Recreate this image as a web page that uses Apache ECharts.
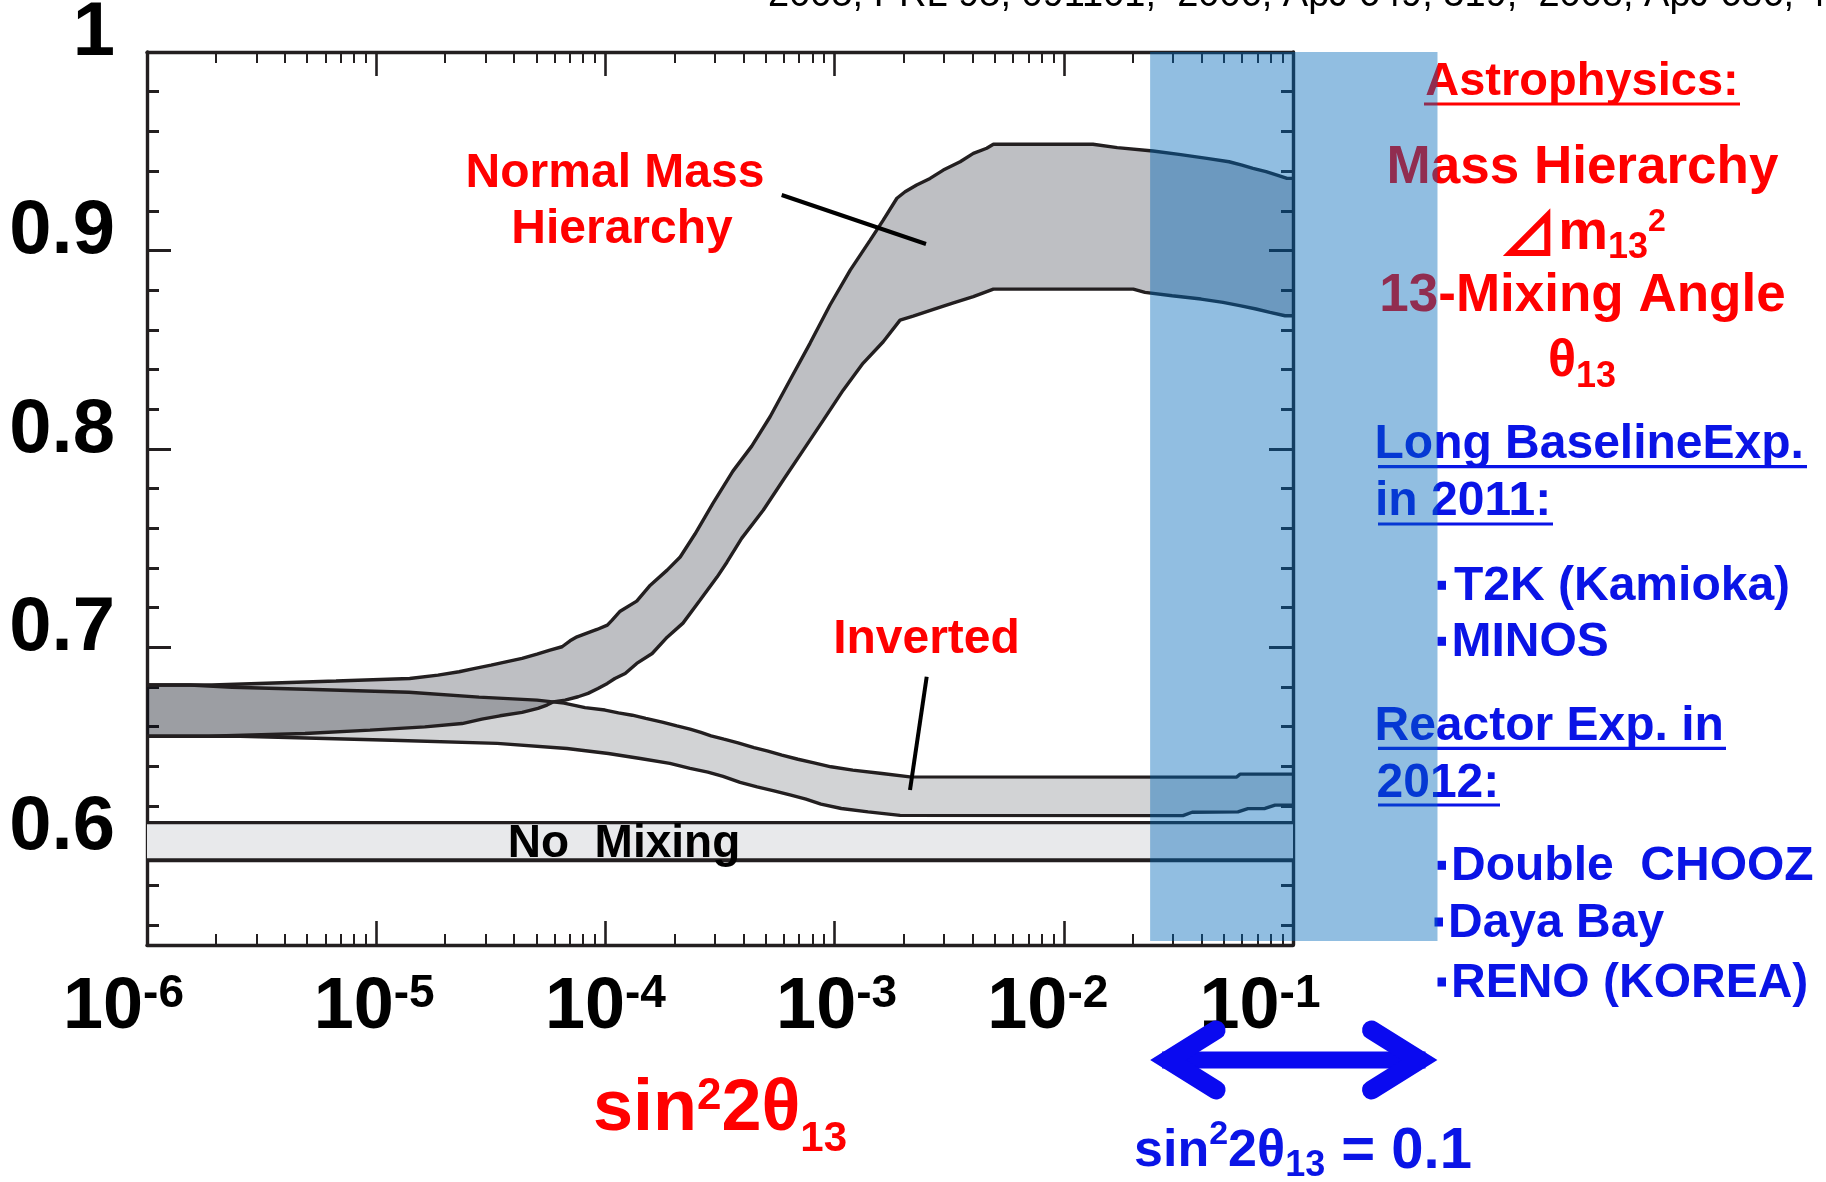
<!DOCTYPE html>
<html><head><meta charset="utf-8">
<script src="https://cdn.jsdelivr.net/npm/echarts@6/dist/echarts.min.js"></script>
<style>html,body{margin:0;padding:0;background:#fff}#c{width:1826px;height:1182px}</style>
</head><body><div id="c"></div>
<script>
// ---------------- data ----------------
const xMin = 1e-6, xMax = 1e-1;
const yMin = 0.55, yMax = 1.0;
const xMajorExp = [-6, -5, -4, -3, -2, -1];
const xMinorMultipliers = [2, 3, 4, 5, 6, 7, 8, 9];
const yMajorTicks = [0.6, 0.7, 0.8, 0.9, 1.0];
const yMinorTicks = [0.56, 0.58, 0.62, 0.64, 0.66, 0.68, 0.72, 0.74, 0.76, 0.78,
                     0.82, 0.84, 0.86, 0.88, 0.92, 0.94, 0.96, 0.98];

const normalUpper = [[1e-6,0.6810],[1.92e-6,0.6810],[6.68e-6,0.6830],[1.40e-5,0.6843],[1.86e-5,0.6860],
  [2.30e-5,0.6877],[2.70e-5,0.6894],[3.17e-5,0.6910],[3.68e-5,0.6927],[4.33e-5,0.6944],[5.03e-5,0.6966],
  [5.73e-5,0.6986],[6.47e-5,0.7003],[7.01e-5,0.7033],[7.52e-5,0.7053],[8.31e-5,0.7072],[9.19e-5,0.7090],
  [1.02e-4,0.7112],[1.07e-4,0.7137],[1.16e-4,0.7182],[1.37e-4,0.7233],[1.57e-4,0.7313],[1.86e-4,0.7389],
  [2.12e-4,0.7455],[2.46e-4,0.7571],[2.95e-4,0.7727],[3.60e-4,0.7888],[4.35e-4,0.8014],[5.23e-4,0.8162],
  [6.39e-4,0.8347],[7.81e-4,0.8532],[9.55e-4,0.8725],[1.17e-3,0.8901],[1.43e-3,0.9052],[1.63e-3,0.9153],
  [1.87e-3,0.9263],[2.03e-3,0.9296],[2.28e-3,0.9330],[2.61e-3,0.9363],[2.98e-3,0.9405],[3.53e-3,0.9447],
  [4.03e-3,0.9489],[4.61e-3,0.9515],[4.93e-3,0.9535],[1.34e-2,0.9535],[1.71e-2,0.9518],[2.45e-2,0.9501],
  [3.18e-2,0.9484],[4.21e-2,0.9464],[5.26e-2,0.9447],[5.99e-2,0.9430],[6.69e-2,0.9414],[7.63e-2,0.9397],
  [8.52e-2,0.9380],[9.42e-2,0.9363],[1e-1,0.9363]];

const normalLower = [[1e-6,0.6552],[1.86e-6,0.6552],[4.89e-6,0.6566],[9.40e-6,0.6583],[1.63e-5,0.6599],
  [2.37e-5,0.6616],[2.89e-5,0.6638],[3.47e-5,0.6655],[4.33e-5,0.6672],[5.08e-5,0.6692],[5.56e-5,0.6709],
  [5.91e-5,0.6725],[6.67e-5,0.6734],[7.60e-5,0.6751],[8.40e-5,0.6768],[9.28e-5,0.6793],[1.02e-4,0.6818],
  [1.10e-4,0.6843],[1.22e-4,0.6868],[1.37e-4,0.6919],[1.60e-4,0.6969],[1.86e-4,0.7051],[2.18e-4,0.7122],
  [2.59e-4,0.7238],[3.07e-4,0.7354],[3.39e-4,0.7429],[3.93e-4,0.7549],[4.89e-4,0.7692],[5.97e-4,0.7843],
  [7.30e-4,0.7994],[8.93e-4,0.8145],[1.09e-3,0.8296],[1.33e-3,0.8431],[1.63e-3,0.8540],[1.93e-3,0.8649],
  [2.20e-3,0.8669],[2.70e-3,0.8703],[3.30e-3,0.8736],[4.03e-3,0.8767],[4.93e-3,0.8805],[2.01e-2,0.8805],
  [2.26e-2,0.8789],[2.97e-2,0.8772],[3.97e-2,0.8755],[4.95e-2,0.8738],[5.93e-2,0.8721],[6.90e-2,0.8705],
  [7.94e-2,0.8688],[9.23e-2,0.8671],[1e-1,0.8671]];

const invertedUpper = [[1e-6,0.6810],[1.54e-6,0.6810],[2.35e-6,0.6799],[4.94e-6,0.6789],[1.39e-5,0.6774],
  [2.81e-5,0.6749],[5.03e-5,0.6734],[6.60e-5,0.6719],[8.15e-5,0.6696],[9.96e-5,0.6684],[1.14e-4,0.6670],
  [1.31e-4,0.6658],[1.50e-4,0.6642],[1.77e-4,0.6623],[2.05e-4,0.6604],[2.34e-4,0.6588],[2.61e-4,0.6571],
  [2.89e-4,0.6554],[3.29e-4,0.6537],[3.79e-4,0.6519],[4.45e-4,0.6495],[5.12e-4,0.6477],[5.89e-4,0.6457],
  [6.92e-4,0.6436],[8.13e-4,0.6418],[9.64e-4,0.6398],[1.20e-3,0.6381],[1.61e-3,0.6364],[2.13e-3,0.6347],
  [5.68e-2,0.6346],[5.87e-2,0.6361],[1e-1,0.6361]];

const invertedLower = [[1e-6,0.6552],[2.55e-6,0.6552],[1.17e-5,0.6532],[3.37e-5,0.6516],[6.80e-5,0.6490],
  [1.03e-4,0.6465],[1.42e-4,0.6440],[1.91e-4,0.6415],[2.34e-4,0.6390],[2.80e-4,0.6371],[3.26e-4,0.6350],
  [3.87e-4,0.6319],[4.59e-4,0.6297],[5.44e-4,0.6277],[6.45e-4,0.6255],[7.50e-4,0.6235],[8.72e-4,0.6210],
  [1.07e-3,0.6188],[1.40e-3,0.6171],[1.93e-3,0.6153],[3.31e-2,0.6152],[3.63e-2,0.6169],[5.75e-2,0.6171],
  [6.36e-2,0.6187],[7.55e-2,0.6188],[8.35e-2,0.6205],[1e-1,0.6205]];

const noMixingUpper = [[1e-6,0.6117],[1e-1,0.6117]];
const noMixingLower = [[1e-6,0.5927],[1e-1,0.5927]];

const expBandX = [0.0238, 0.427];
const expBandY = [0.552, 1.0];

// ---------------- styling ----------------
const FF = 'Liberation Sans, Arial, Helvetica, sans-serif';
const AX = '#231f20';
const RED = '#ff0000';
const BLUE = '#0a14e6';
const ARROW = '#0a0af0';
const xLabelShift = [-23.5, -2, 0, 2, -16, -33];

const xMinorExp = [];
xMajorExp.slice(0, -1).forEach(e => xMinorMultipliers.forEach(k => xMinorExp.push(e + Math.log10(k))));

const xRich = {
  b: {fontSize: 72, fontWeight: 'bold', fontFamily: FF, color: '#000', lineHeight: 72},
  s: {fontSize: 46, fontWeight: 'bold', fontFamily: FF, color: '#000', height: 44, lineHeight: 44, verticalAlign: 'top'}
};
xLabelShift.forEach((sh, i) => { xRich['g' + i] = {width: Math.abs(2 * sh), fontSize: 10, lineHeight: 10}; });

function xLabelFormatter(v) {
  const i = xMajorExp.findIndex(e => Math.abs(e - v) < 1e-9);
  const sh = xLabelShift[i] || 0;
  const pad = sh !== 0 ? '{g' + i + '| }' : '';
  return (sh > 0 ? pad : '') + '{b|10}{s|' + Math.round(v) + '}' + (sh < 0 ? pad : '');
}

function valueXAxis(pos, major, withLabels, extra) {
  return Object.assign({
    type: 'value', min: -6, max: -1, position: pos, gridIndex: 0,
    axisLine: {show: major, onZero: false, lineStyle: {color: AX, width: 3.4}},
    axisTick: {show: true, inside: true, length: major ? 24 : 11,
      customValues: major ? xMajorExp : xMinorExp,
      lineStyle: {color: AX, width: major ? 2.6 : 2}},
    axisLabel: withLabels ? {show: true, customValues: xMajorExp, formatter: xLabelFormatter, rich: xRich, margin: 27} : {show: false},
    splitLine: {show: false}, minorTick: {show: false}
  }, extra || {});
}

function valueYAxis(pos, major, withLabels) {
  return {
    type: 'value', min: yMin, max: yMax, position: pos, gridIndex: 0,
    axisLine: {show: major, onZero: false, lineStyle: {color: AX, width: 3.4}},
    axisTick: {show: true, inside: true, length: major ? 24 : 12,
      customValues: major ? yMajorTicks : yMinorTicks,
      lineStyle: {color: AX, width: 3}},
    axisLabel: withLabels ? {
      show: true, customValues: yMajorTicks,
      formatter: v => (Math.abs(v - 1) < 1e-9 ? '1' : v.toFixed(1)),
      fontSize: 76, fontWeight: 'bold', fontFamily: FF, color: '#000',
      margin: 32, verticalAlign: 'bottom', lineHeight: 36
    } : {show: false},
    splitLine: {show: false}
  };
}

function bandFill(upper, lower, color) {
  return {
    type: 'custom', coordinateSystem: 'cartesian2d', xAxisIndex: 0, yAxisIndex: 0,
    silent: true, z: 1, data: [upper[0]],
    renderItem: (params, api) => {
      const pts = upper.map(p => api.coord(p)).concat(lower.slice().reverse().map(p => api.coord(p)));
      return {type: 'polygon', shape: {points: pts}, style: {fill: color}};
    }
  };
}

function boundary(data, w) {
  return {type: 'line', data: data, xAxisIndex: 0, yAxisIndex: 0, symbol: 'none', silent: true, z: 3,
    lineStyle: {color: AX, width: w}, emphasis: {disabled: true}};
}

function txt(x, base, text, size, color, align, weight) {
  return {type: 'text', z: 5, silent: true, style: {
    text: text, x: x, y: base - 0.3465 * size, fill: color,
    fontSize: size, fontWeight: weight || 'bold', fontFamily: FF,
    align: align || 'center', verticalAlign: 'middle'}};
}
function uline(x1, x2, y, color) {
  return {type: 'rect', z: 5, silent: true, shape: {x: x1, y: y - 1.6, width: x2 - x1, height: 3.2}, style: {fill: color}};
}
function bullet(x, base) {
  return {type: 'rect', z: 5, silent: true, shape: {x: x, y: base - 22.5, width: 8.5, height: 9}, style: {fill: BLUE}};
}

const option = {
  animation: false,
  backgroundColor: '#ffffff',
  textStyle: {fontFamily: FF},
  grid: {left: 147, top: 52, width: 1146, height: 893, containLabel: false, outerBoundsMode: 'none'},
  xAxis: [
    {type: 'log', logBase: 10, min: xMin, max: xMax, show: false, gridIndex: 0, position: 'bottom'},
    valueXAxis('bottom', true, true, {
      name: '{a|sin}{p|2}{a|2θ}{b|13}', nameLocation: 'middle', nameGap: 129,
      nameTextStyle: {rich: {
        a: {fontSize: 72, fontWeight: 'bold', fontFamily: FF, color: RED, lineHeight: 72},
        p: {fontSize: 44, fontWeight: 'bold', fontFamily: FF, color: RED, height: 45, lineHeight: 45, verticalAlign: 'top'},
        b: {fontSize: 42, fontWeight: 'bold', fontFamily: FF, color: RED, height: 14, lineHeight: 14, verticalAlign: 'bottom'}
      }}
    }),
    valueXAxis('bottom', false, false),
    valueXAxis('top', true, false),
    valueXAxis('top', false, false)
  ],
  yAxis: [
    valueYAxis('left', true, true),
    valueYAxis('left', false, false),
    valueYAxis('right', true, false),
    valueYAxis('right', false, false)
  ],
  series: [
    bandFill(noMixingUpper, noMixingLower, '#e8e9eb'),
    bandFill(invertedUpper, invertedLower, 'rgba(0,6,17,0.176)'),
    bandFill(normalUpper, normalLower, 'rgba(0,4,20,0.255)'),
    boundary(noMixingUpper, 3.2),
    boundary(noMixingLower, 4),
    boundary(invertedUpper, 3.4),
    boundary(invertedLower, 3.4),
    boundary(normalUpper, 3.4),
    boundary(normalLower, 3.4),
    {
      type: 'custom', coordinateSystem: 'cartesian2d', xAxisIndex: 0, yAxisIndex: 0,
      silent: true, z: 10, clip: false, data: [[expBandX[0], expBandY[0]]],
      renderItem: (params, api) => {
        const p0 = api.coord([expBandX[0], expBandY[1]]);
        const p1 = api.coord([expBandX[1], expBandY[0]]);
        const cs = params.coordSys;
        const ay = cs.y + cs.height + 115;
        const xl = p0[0], xr = p1[0];
        const chev = {stroke: ARROW, lineWidth: 19, lineCap: 'round', lineJoin: 'miter', fill: null};
        return {type: 'group', children: [
          {type: 'rect', shape: {x: xl, y: p0[1], width: xr - xl, height: p1[1] - p0[1]}, style: {fill: 'rgba(0,105,186,0.43)'}},
          {type: 'line', shape: {x1: xl + 12, y1: ay, x2: xr - 12, y2: ay}, style: {stroke: ARROW, lineWidth: 17}},
          {type: 'polyline', shape: {points: [[xl + 66, ay - 30], [xl + 18, ay], [xl + 66, ay + 30]]}, style: chev},
          {type: 'polyline', shape: {points: [[xr - 66, ay - 30], [xr - 18, ay], [xr - 66, ay + 30]]}, style: chev}
        ]};
      }
    }
  ],
  graphic: {elements: [
    txt(768, 9, '2005, PRL 95, 091101;  2006, ApJ 649, 319;  2008, ApJ 686, 448', 38, '#000', 'left', 'normal'),
    txt(615, 190, 'Normal Mass', 48, RED),
    txt(622, 246.7, 'Hierarchy', 48, RED),
    {type: 'line', z: 5, silent: true, shape: {x1: 781.7, y1: 195, x2: 926, y2: 244}, style: {stroke: '#000', lineWidth: 4}},
    txt(926.5, 656.7, 'Inverted', 48, RED),
    {type: 'line', z: 5, silent: true, shape: {x1: 926.7, y1: 676.7, x2: 910, y2: 790}, style: {stroke: '#000', lineWidth: 4}},
    txt(624, 860, 'No  Mixing', 46, '#000'),
    txt(1582, 98, 'Astrophysics:', 47, RED),
    uline(1424, 1740, 104, RED),
    txt(1582.5, 187, 'Mass Hierarchy', 53, RED),
    {type: 'text', z: 5, silent: true, style: {
      text: '{t|⊿}{m|m}{s|13}{p|2}', x: 1582, y: 204, align: 'center', verticalAlign: 'top',
      rich: {
        t: {fontSize: 60, fontWeight: 'bold', fontFamily: 'Noto Sans CJK JP', fill: RED, lineHeight: 60},
        m: {fontSize: 56, fontWeight: 'bold', fontFamily: FF, fill: RED, lineHeight: 60},
        s: {fontSize: 36, fontWeight: 'bold', fontFamily: FF, fill: RED, height: 32, lineHeight: 32, verticalAlign: 'bottom'},
        p: {fontSize: 32, fontWeight: 'bold', fontFamily: FF, fill: RED, height: 37, lineHeight: 37, verticalAlign: 'top'}
      }}},
    txt(1582.5, 315, '13-Mixing Angle', 53, RED),
    {type: 'text', z: 5, silent: true, style: {
      text: '{t|θ}{s|13}', x: 1582, y: 336, align: 'center', verticalAlign: 'top',
      rich: {
        t: {fontSize: 52, fontWeight: 'bold', fontFamily: FF, fill: RED, lineHeight: 52},
        s: {fontSize: 36, fontWeight: 'bold', fontFamily: FF, fill: RED, height: 21, lineHeight: 21, verticalAlign: 'bottom'}
      }}},
    txt(1374.5, 461.7, 'Long BaselineExp.', 48, BLUE, 'left'),
    uline(1378, 1807, 466.7, BLUE),
    txt(1375, 518.3, 'in 2011:', 48, BLUE, 'left'),
    uline(1378, 1553, 524, BLUE),
    bullet(1437.5, 603.3), txt(1454, 603.3, 'T2K (Kamioka)', 48, BLUE, 'left'),
    bullet(1437.5, 659.3), txt(1451.5, 659.3, 'MINOS', 48, BLUE, 'left'),
    txt(1374.5, 743.3, 'Reactor Exp. in', 48, BLUE, 'left'),
    uline(1378, 1726, 748.3, BLUE),
    txt(1376.5, 800, '2012:', 48, BLUE, 'left'),
    uline(1378, 1500, 805, BLUE),
    bullet(1437.5, 883.3), txt(1451, 883.3, 'Double  CHOOZ', 48, BLUE, 'left'),
    bullet(1434.5, 940), txt(1448, 940, 'Daya Bay', 48, BLUE, 'left'),
    bullet(1437.5, 1000), txt(1451, 1000, 'RENO (KOREA)', 48, BLUE, 'left'),
    {type: 'text', z: 5, silent: true, style: {
      text: '{a|sin}{p|2}{a|2θ}{b|13}{c| = 0.1}', x: 1303, y: 1123, align: 'center', verticalAlign: 'top',
      rich: {
        a: {fontSize: 52, fontWeight: 'bold', fontFamily: FF, fill: BLUE, lineHeight: 58},
        p: {fontSize: 34, fontWeight: 'bold', fontFamily: FF, fill: BLUE, height: 24, lineHeight: 24, verticalAlign: 'top'},
        b: {fontSize: 36, fontWeight: 'bold', fontFamily: FF, fill: BLUE, height: 29, lineHeight: 29, verticalAlign: 'bottom'},
        c: {fontSize: 58, fontWeight: 'bold', fontFamily: FF, fill: BLUE, lineHeight: 58}
      }}}
  ]}
};

const chart = echarts.init(document.getElementById('c'), null, {renderer: 'canvas', width: 1826, height: 1182});
chart.setOption(option);
</script>
</body></html>
